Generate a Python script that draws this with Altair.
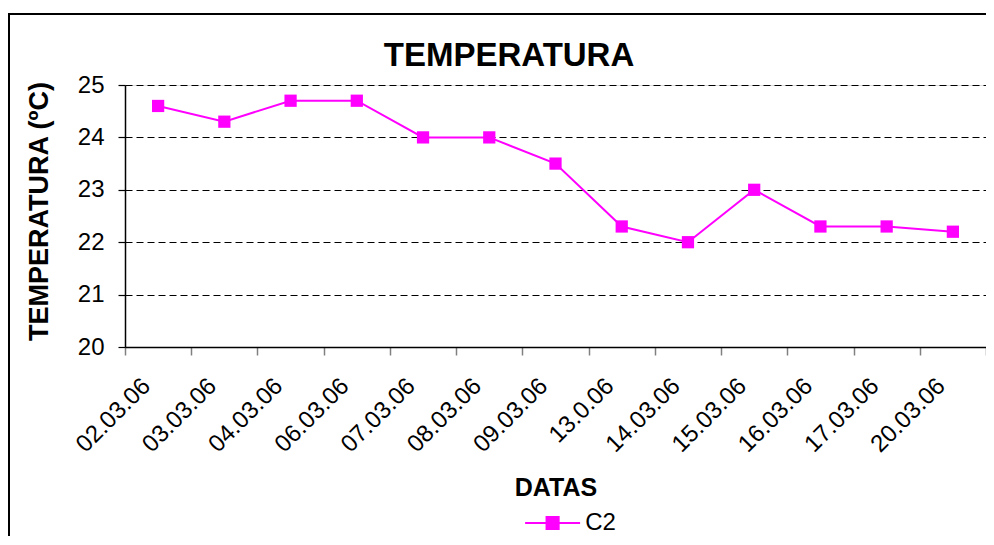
import altair as alt
import pandas as pd

datas = ["02.03.06", "03.03.06", "04.03.06", "06.03.06", "07.03.06", "08.03.06",
         "09.03.06", "13.0.06", "14.03.06", "15.03.06", "16.03.06", "17.03.06", "20.03.06"]
temperatura = [24.6, 24.3, 24.7, 24.7, 24.0, 24.0, 23.5, 22.3, 22.0, 23.0, 22.3, 22.3, 22.2]
serie = "C2"

df = pd.DataFrame({"data": datas, "temp": temperatura, "serie": [serie] * len(datas)})

FONT = "Liberation Sans"
W, H = 861, 262
MAG = "#FF00FF"

x_enc = alt.X(
    "data:N",
    sort=datas,
    bandPosition=0.5,
    scale=alt.Scale(type="band", paddingInner=0, paddingOuter=0),
    axis=alt.Axis(
        title="DATAS",
        titleFont=FONT, titleFontSize=25, titleFontWeight="bold", titleColor="black",
        titleX=W / 2, titleY=148, titleBaseline="alphabetic", titleAlign="center",
        labelAngle=315, labelFont=FONT, labelFontSize=24, labelColor="black",
        labelAlign="right", labelBaseline="middle", labelPadding=27, labelOffset=-12,
        tickBand="extent", tickSize=8, tickColor="#808080", tickWidth=1.5,
        domainColor="black", domainWidth=1.5, grid=False, labelOverlap=False,
    ),
)
y_enc = alt.Y(
    "temp:Q",
    scale=alt.Scale(domain=[20, 25], nice=False, zero=False),
    axis=alt.Axis(
        title="TEMPERATURA (ºC)",
        titleFont=FONT, titleFontSize=27, titleFontWeight="bold", titleColor="black",
        titleAngle=270, titleX=-78, titleY=126, titleBaseline="alphabetic", titleAlign="center",
        values=[20, 21, 22, 23, 24, 25], format="d",
        labelFont=FONT, labelFontSize=24, labelColor="black", labelPadding=14,
        tickSize=7, tickColor="black", tickWidth=1.2,
        domainColor="black", domainWidth=1.5,
        grid=True, gridColor="black", gridDash=[7, 4], gridWidth=1.2,
    ),
)
color_enc = alt.Color(
    "serie:N",
    scale=alt.Scale(domain=[serie], range=[MAG]),
    legend=alt.Legend(
        title=None, orient="none", legendX=415.6, legendY=426, padding=0,
        symbolType="M-4,0H4M-0.88,-0.88H0.88V0.88H-0.88Z",
        symbolSize=189, symbolStrokeWidth=2, symbolFillColor=MAG, symbolStrokeColor=MAG,
        symbolOpacity=1,
        labelFont=FONT, labelFontSize=24, labelColor="black", labelOffset=20.6,
    ),
)

border = alt.Chart(df).mark_rect(fill=None, stroke="black", strokeWidth=1.2).encode(
    x=alt.value(-116), x2=alt.value(1000), y=alt.value(-71), y2=alt.value(600)
)

line = alt.Chart(df).mark_line(strokeWidth=2).encode(x=x_enc, y=y_enc, color=color_enc)
points = alt.Chart(df).mark_point(shape="square", filled=True, size=150, opacity=1).encode(
    x=alt.X("data:N", sort=datas, bandPosition=0.5), y="temp:Q",
    color=alt.value(MAG)
)

chart = alt.layer(border, line, points).properties(
    width=W, height=H,
    title=alt.Title("TEMPERATURA", font=FONT, fontSize=33, fontWeight="bold", color="black",
                    anchor="middle", frame="group", dx=-46.5, dy=85.4,
                    baseline="alphabetic", offset=0),
    autosize=alt.AutoSizeParams(type="none"),
    padding={"left": 117, "top": 77, "right": 0, "bottom": 189},
).configure_view(stroke="#808080", strokeWidth=1.5).configure(background="white")

chart.save("out.html", embed_options={"renderer": "svg", "actions": False})
